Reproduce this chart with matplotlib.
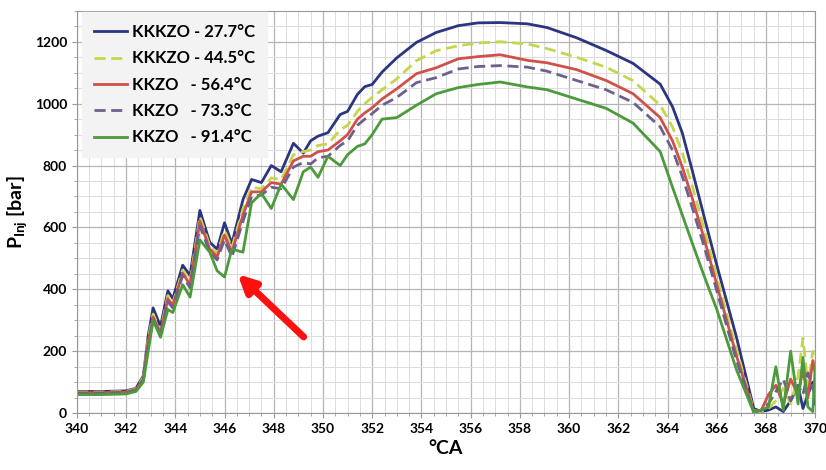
import numpy as np
import matplotlib.pyplot as plt
from matplotlib.ticker import MultipleLocator

plt.rcParams['font.family'] = ['Lato', 'DejaVu Sans']
plt.rcParams['mathtext.fontset'] = 'custom'
plt.rcParams['mathtext.rm'] = 'Lato'
plt.rcParams['mathtext.bf'] = 'Lato:bold'

# crank angle grid shared by all five traces
ca = [340, 341, 342, 342.4, 342.7, 342.9, 343.1, 343.4, 343.7, 343.9,
      344.3, 344.6, 345.0, 345.4, 345.7, 346.0, 346.3, 346.75, 347.1, 347.5,
      347.9, 348.3, 348.8, 349.2, 349.5, 349.8, 350.2, 350.7, 351.0, 351.4,
      351.7, 352.0, 352.4, 353.0, 353.8, 354.6, 355.5, 356.3, 357.2, 358.3,
      359.1, 360.3, 361.5, 362.6, 363.7, 364.2, 364.6, 365.0, 365.5, 366.0,
      366.8, 367.5, 367.8, 368.1, 368.4, 368.7, 369.0, 369.3, 369.5, 369.7,
      369.9, 370]

p_277 = [70, 70, 72, 80, 120, 250, 340, 280, 395, 370,
         478, 445, 655, 552, 530, 615, 548, 690, 755, 745,
         800, 780, 872, 840, 880, 895, 906, 965, 975, 1030,
         1055, 1062, 1102, 1148, 1198, 1230, 1252, 1261, 1262, 1258,
         1246, 1213, 1172, 1130, 1063, 990, 905, 785, 630, 478,
         245, 15, 5, 10, 20, 5, 40, 90, 15, 60,
         100, 30]

p_445 = [68, 68, 70, 78, 115, 240, 320, 265, 380, 355,
         462, 425, 635, 540, 515, 590, 535, 660, 730, 725,
         760, 755, 835, 845, 850, 865, 870, 915, 930, 975,
         1000, 1020, 1045, 1080, 1139, 1171, 1187, 1196, 1200, 1193,
         1178, 1150, 1118, 1074, 995, 925, 840, 735, 590, 440,
         205, 8, 5, 15, 40, 80, 30, 120, 242, 90,
         200, 120]

p_564 = [66, 66, 68, 76, 110, 230, 310, 258, 370, 348,
         452, 415, 620, 530, 505, 575, 520, 640, 715, 715,
         745, 740, 815, 830, 830, 845, 850, 880, 900, 950,
         970, 987, 1015, 1048, 1097, 1116, 1145, 1152, 1158, 1140,
         1132, 1110, 1075, 1032, 955, 880, 795, 695, 560, 415,
         185, 5, 8, 60, 90, 30, 110, 60, 140, 50,
         170, 130]

p_733 = [64, 64, 66, 74, 105, 220, 300, 252, 360, 340,
         445, 405, 605, 520, 495, 560, 505, 620, 700, 705,
         730, 725, 795, 810, 805, 825, 830, 865, 880, 930,
         950, 968, 995, 1020, 1068, 1084, 1112, 1120, 1123, 1118,
         1105, 1075, 1045, 1004, 925, 850, 765, 665, 535, 395,
         170, 3, 10, 30, 70, 110, 40, 90, 60, 130,
         80, 100]

p_914 = [60, 60, 62, 70, 100, 200, 300, 245, 335, 325,
         415, 375, 560, 520, 460, 440, 530, 520, 680, 710,
         661, 740, 690, 780, 795, 762, 830, 800, 835, 862,
         870, 900, 950, 955, 995, 1032, 1052, 1062, 1070, 1054,
         1045, 1015, 985, 937, 845, 730, 640, 550, 440, 335,
         140, 3, 10, 20, 150, 10, 200, 30, 180, 20,
         5, 150]

labels = ['KKKZO - 27.7°C', 'KKKZO - 44.5°C', 'KKZO   - 56.4°C',
          'KKZO   - 73.3°C', 'KKZO   - 91.4°C']

fig = plt.figure(figsize=(8.26, 4.7), dpi=100)
ax = fig.add_axes([0.093, 0.121, 0.894, 0.856])

ax.plot(ca, p_277, color='#2b3580', lw=2, label=labels[0])
ax.plot(ca, p_445, color='#c5d64a', lw=2, ls=(0, (4, 2)), label=labels[1])
ax.plot(ca, p_564, color='#cf5149', lw=2, label=labels[2])
ax.plot(ca, p_733, color='#6e5f8c', lw=2, ls=(0, (4, 2)), label=labels[3])
ax.plot(ca, p_914, color='#4c9a3c', lw=2, label=labels[4])

ax.set_xlim(340, 370)
ax.set_ylim(0, 1300)
ax.xaxis.set_major_locator(MultipleLocator(2))
ax.xaxis.set_minor_locator(MultipleLocator(0.5))
ax.yaxis.set_major_locator(MultipleLocator(200))
ax.yaxis.set_minor_locator(MultipleLocator(50))
ax.grid(which='major', color='#b5b5b5', lw=0.9)
ax.grid(which='minor', color='#dcdcdc', lw=0.7)
ax.set_axisbelow(True)
for s in ax.spines.values():
    s.set_color('#999999')
ax.tick_params(which='both', color='#999999', labelsize=10)
for t in ax.get_xticklabels() + ax.get_yticklabels():
    t.set_fontweight('bold')

ax.set_xlabel('°CA', fontsize=14, fontweight='bold')
ax.set_ylabel(r'$\mathbf{P_{Inj}}$ [bar]', fontsize=14, fontweight='bold')

leg = ax.legend(loc='upper left', fontsize=12, frameon=True, handlelength=2.0,
                handletextpad=0.3, borderaxespad=0.1, labelspacing=0.62,
                fancybox=False, borderpad=0.7, bbox_to_anchor=(0.005, 1.0))
leg.get_frame().set_facecolor('#f3f3f3')
leg.get_frame().set_edgecolor('#f3f3f3')
leg.get_frame().set_alpha(1)
for t in leg.get_texts():
    t.set_fontweight('bold')

ax.annotate('', xy=(346.45, 455), xytext=(349.3, 240),
            arrowprops=dict(arrowstyle='-|>', color='#ff1010', lw=5,
                            mutation_scale=26))

fig.savefig('out.png', dpi=100)
